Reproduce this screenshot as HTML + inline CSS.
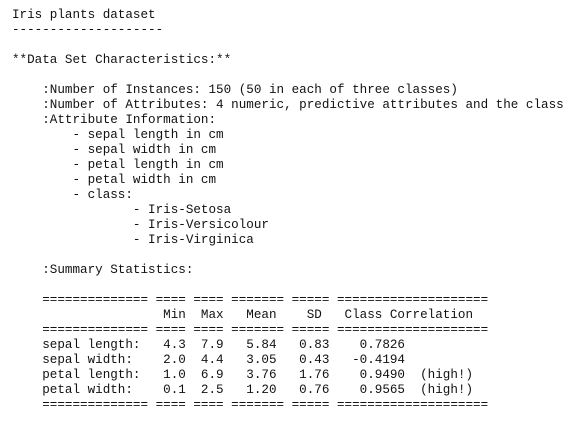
<!DOCTYPE html>
<html><head><meta charset="utf-8"><style>
html,body{margin:0;padding:0;background:#fff;width:584px;height:424px;overflow:hidden}
pre{position:absolute;left:12px;top:8px;margin:0;font-family:"Liberation Mono",monospace;font-size:12.6px;line-height:15px;color:#111;white-space:pre}
</style></head><body>
<pre>Iris plants dataset
--------------------

**Data Set Characteristics:**

    :Number of Instances: 150 (50 in each of three classes)
    :Number of Attributes: 4 numeric, predictive attributes and the class
    :Attribute Information:
        - sepal length in cm
        - sepal width in cm
        - petal length in cm
        - petal width in cm
        - class:
                - Iris-Setosa
                - Iris-Versicolour
                - Iris-Virginica

    :Summary Statistics:

    ============== ==== ==== ======= ===== ====================
                    Min  Max   Mean    SD   Class Correlation
    ============== ==== ==== ======= ===== ====================
    sepal length:   4.3  7.9   5.84   0.83    0.7826
    sepal width:    2.0  4.4   3.05   0.43   -0.4194
    petal length:   1.0  6.9   3.76   1.76    0.9490  (high!)
    petal width:    0.1  2.5   1.20   0.76    0.9565  (high!)
    ============== ==== ==== ======= ===== ====================</pre>
</body></html>
